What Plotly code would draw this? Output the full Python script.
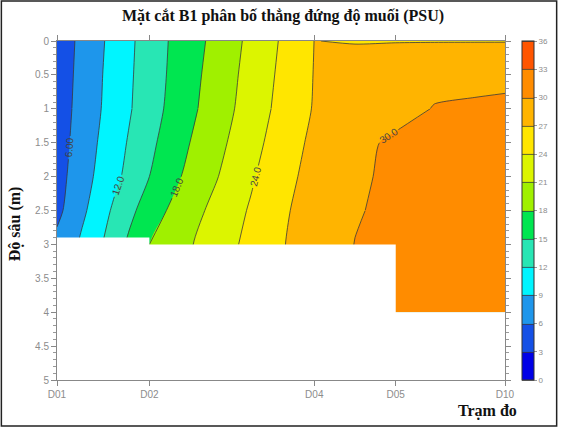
import plotly.graph_objects as go

# ---------------- data ----------------
station_names = ["D01", "D02", "D04", "D05", "D10"]
station_x = [0, 93, 259, 341, 451]          # along-section position (relative)

grid_x = [0, 30, 60, 93, 125, 160, 195, 230, 259, 300, 341, 380, 420, 451]
depths = [0.0, 0.5, 1.0, 1.5, 2.0, 2.5, 3.0, 3.5, 4.0]

sal_d00 = [4.2, 7.2, 10.2, 13.4, 16.1, 18.8, 21.7, 24.6, 27.02, 26.9, 26.9, 26.9, 26.9, 26.9]
sal_d05 = [4.3, 7.4, 10.4, 13.5, 16.3, 19.2, 22.0, 24.9, 27.1, 28.0, 28.8, 29.4, 29.6, 29.7]
sal_d10 = [4.4, 7.6, 10.5, 13.7, 16.6, 19.5, 22.3, 25.2, 27.2, 28.2, 29.2, 30.1, 30.2, 30.25]
sal_d15 = [4.6, 7.9, 11.0, 14.3, 17.3, 20.1, 22.9, 25.8, 27.6, 29.4, 30.4, 30.6, 30.7, 30.8]
sal_d20 = [4.85, 8.3, 11.5, 15.0, 18.0, 20.8, 23.6, 26.4, 27.8, 29.6, 30.5, 30.7, 30.8, 30.9]
sal_d25 = [5.25, 9.0, 12.8, 16.5, 19.3, 21.8, 24.3, 26.8, 28.0, 29.8, 30.6, 30.8, 30.9, 31.0]
sal_d30 = [6.8, 9.9, 13.9, 18.0, 20.2, 22.5, 24.8, 27.0, 28.3, 30.05, 30.8, 30.9, 31.0, 31.1]
sal_d35 = [6.8, 9.9, 13.9, 18.0, 20.2, 22.5, 24.8, 27.0, 28.3, 30.5, 30.9, 31.0, 31.1, 31.2]
sal_d40 = [6.8, 9.9, 13.9, 18.0, 20.2, 22.5, 24.8, 27.0, 28.3, 30.6, 31.0, 31.1, 31.2, 31.3]

# bottom (bathymetry) along the section
bed_x = [0, 93, 93, 341, 341, 451]
bed_depth = [2.9, 2.9, 3.0, 3.0, 4.0, 4.0]

level_colors = ["#0000E6", "#1450E6", "#1E96EB", "#00F5FF", "#28E6B4", "#00E650",
                "#A0F000", "#DCF500", "#FFE600", "#FFB400", "#FF8C00", "#FF5500"]
cbar_ticks = list(range(0, 37, 3))
# -------------------------------------

z_all = [sal_d00, sal_d05, sal_d10, sal_d15, sal_d20, sal_d25, sal_d30, sal_d35, sal_d40]

n = len(level_colors)
cs = []
for k, c in enumerate(level_colors):
    lo = 0.0 if k == 0 else (k + 0.5) / n
    hi = 1.0 if k == n - 1 else (k + 1.5) / n
    cs.append([lo, c])
    cs.append([hi, c])

LINE = dict(color="#3a3a3a", width=0.8, smoothing=0.7)
LABEL_FONT = dict(family="Liberation Sans, Arial", size=10, color="#444444")
tick_font = dict(family="Liberation Sans, Arial", size=10, color="#8c8c8c")

fig = go.Figure()

# filled bands
fig.add_trace(go.Contour(
    x=grid_x, y=depths, z=z_all, zmin=0, zmax=36, zauto=False,
    colorscale=cs, showscale=False,
    contours=dict(start=0, end=36, size=3, coloring="fill", showlines=False),
    line=dict(width=0), hoverinfo="skip",
))

# colour key (same levels / colours; its only visible part is the colour bar)
fig.add_trace(go.Contour(
    x=[station_x[-1] + 100, station_x[-1] + 101], y=[depths[0], depths[1]],
    z=[[0, 36], [0, 36]], zmin=0, zmax=36, zauto=False,
    colorscale=cs,
    contours=dict(start=0, end=36, size=3, coloring="fill", showlines=True),
    line=LINE,
    colorbar=dict(
        x=(525 - 57) / 451, xanchor="left", xpad=0,
        y=0.5, yanchor="middle", len=1, lenmode="fraction", ypad=0,
        thickness=12, outlinecolor="#333333", outlinewidth=1,
        tickmode="array", tickvals=cbar_ticks,
        ticks="outside", ticklen=3, tickcolor="#999999",
        tickfont=dict(family="Liberation Sans, Arial", size=8, color="#8c8c8c"),
    ),
    hoverinfo="skip",
))


def add_lines(start, end, step, r0, r1, labels):
    fig.add_trace(go.Contour(
        x=grid_x, y=depths[r0:r1], z=z_all[r0:r1], showscale=False,
        contours=dict(start=start, end=end, size=step, coloring="none",
                      showlabels=labels, labelformat=".3r", labelfont=LABEL_FONT),
        line=LINE, hoverinfo="skip",
    ))


# odd levels, no labels
add_lines(3, 33, 6, 0, 9, False)
# even levels 6..24: labelled around mid depth
add_lines(6, 24, 6, 0, 3, False)
add_lines(6, 24, 6, 2, 7, True)
add_lines(6, 24, 6, 6, 9, False)
# level 30
add_lines(30, 30, 6, 0, 3, False)
add_lines(30, 30, 6, 2, 6, True)
add_lines(30, 30, 6, 5, 9, False)

# white area below the bottom
fig.add_trace(go.Scatter(
    x=bed_x + [bed_x[-1], bed_x[0]],
    y=bed_depth + [5, 5],
    fill="toself", fillcolor="white", mode="none",
    line=dict(width=0), hoverinfo="skip", showlegend=False,
))

fig.update_layout(
    width=561, height=427,
    margin=dict(l=57, r=53, t=41, b=47),
    paper_bgcolor="white", plot_bgcolor="white",
    showlegend=False,
    title=dict(text="<b>Mặt cắt B1 phân bố thẳng đứng độ muối (PSU)</b>",
               x=283 / 561, xanchor="center", y=1 - 15 / 427, yanchor="middle",
               font=dict(family="Liberation Serif, Times New Roman", size=16, color="#111111")),
    xaxis=dict(range=[0, 451], tickmode="array", tickvals=station_x, ticktext=station_names,
               ticks="outside", ticklen=5, tickcolor="#888888", showline=True,
               linecolor="#888888", linewidth=1, mirror="ticks", showgrid=False,
               zeroline=False, tickfont=tick_font),
    yaxis=dict(range=[5, 0], dtick=0.5, tick0=0,
               ticks="outside", ticklen=5, tickcolor="#888888", showline=True,
               linecolor="#888888", linewidth=1, mirror="ticks", showgrid=False,
               zeroline=False, tickfont=tick_font,
               minor=dict(dtick=0.1, ticks="outside", ticklen=3, tickcolor="#999999", showgrid=False)),
    annotations=[
        dict(text="<b>Độ sâu (m)</b>", xref="paper", yref="paper",
             x=(15 - 57) / 451, y=(380 - 224) / 339, textangle=-90, showarrow=False,
             xanchor="center", yanchor="middle",
             font=dict(family="Liberation Serif, Times New Roman", size=16, color="#111111")),
        dict(text="<b>Trạm đo</b>", xref="paper", yref="paper",
             x=(490 - 57) / 451, y=(380 - 411) / 339, showarrow=False,
             xanchor="center", yanchor="middle",
             font=dict(family="Liberation Serif, Times New Roman", size=16, color="#111111")),
    ],
    shapes=[dict(type="rect", xref="paper", yref="paper",
                 x0=(1 - 57) / 451, x1=(560 - 57) / 451,
                 y0=(380 - 426) / 339, y1=(380 - 1) / 339,
                 line=dict(color="#222222", width=1.5), fillcolor="rgba(0,0,0,0)",
                 layer="above")],
)

fig.write_html("out.html")
